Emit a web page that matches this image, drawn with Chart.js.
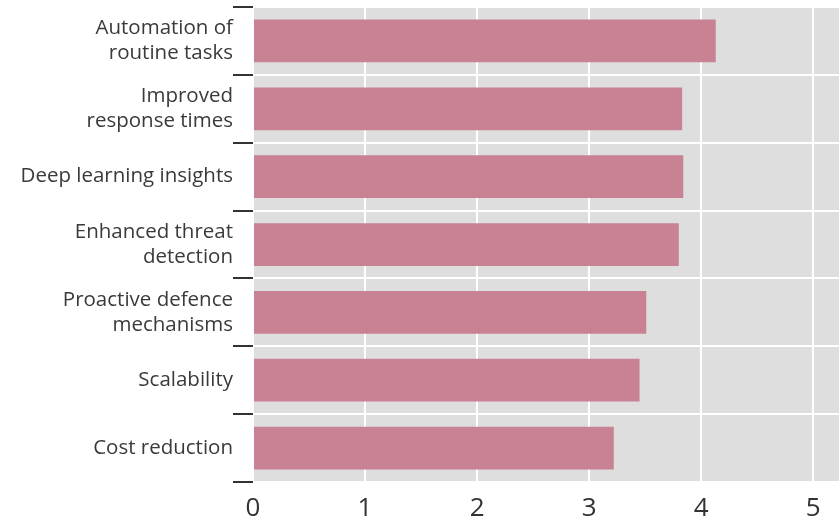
<!DOCTYPE html>
<html>
<head>
<meta charset="utf-8">
<script src="https://cdn.jsdelivr.net/npm/chart.js@4/dist/chart.umd.min.js"></script>
<style>
  html, body { margin: 0; padding: 0; background: #ffffff; }
  #wrap { width: 839px; height: 521px; position: relative; }
</style>
</head>
<body>
<div id="wrap"><canvas id="c"></canvas></div>
<script>
// Benefit categories (multi-line labels) and their average scores
const categories = [
  ["Automation of", "routine tasks"],
  ["Improved", "response times"],
  "Deep learning insights",
  ["Enhanced threat", "detection"],
  ["Proactive defence", "mechanisms"],
  "Scalability",
  "Cost reduction"
];
const scores = [4.13, 3.83, 3.84, 3.80, 3.51, 3.45, 3.22];
const xTicks = [0, 1, 2, 3, 4, 5];

// Grey panel behind the plotting area
const panelBackground = {
  id: 'panelBackground',
  beforeDraw(chart) {
    const { ctx, chartArea: a } = chart;
    ctx.save();
    ctx.fillStyle = '#dedede';
    ctx.fillRect(a.left, a.top, a.right - a.left, a.bottom - a.top);
    ctx.restore();
  }
};

new Chart(document.getElementById('c'), {
  type: 'bar',
  data: {
    labels: categories,
    datasets: [{
      data: scores,
      backgroundColor: '#c88294',
      borderWidth: 0,
      barPercentage: 0.63,
      categoryPercentage: 1.0
    }]
  },
  options: {
    indexAxis: 'y',
    responsive: true,
    maintainAspectRatio: false,
    animation: false,
    layout: { padding: { top: 7, right: 0, bottom: 0, left: 0 } },
    plugins: {
      legend: { display: false },
      tooltip: { enabled: false },
      title: { display: false }
    },
    scales: {
      x: {
        type: 'linear',
        min: 0,
        max: 5.23,
        afterBuildTicks(scale) {
          scale.ticks = xTicks.map(v => ({ value: v }));
        },
        afterFit(scale) { scale.height = 39; },
        border: { display: false },
        grid: {
          color: '#ffffff',
          lineWidth: 2,
          drawTicks: false
        },
        ticks: {
          padding: 11,
          color: '#333333',
          font: { family: 'Open Sans', size: 26 }
        }
      },
      y: {
        afterFit(scale) {
          scale.width = 253;
          scale.paddingTop = 0;
          scale.paddingBottom = 0;
        },
        border: { display: false },
        grid: {
          offset: true,
          color: '#ffffff',
          lineWidth: 2,
          drawTicks: true,
          tickLength: 20,
          tickColor: '#333333',
          tickWidth: 2
        },
        ticks: {
          padding: 0,
          color: '#3a3a3a',
          font: { family: 'Open Sans', size: 20.5, lineHeight: 1.22 }
        }
      }
    }
  },
  plugins: [panelBackground]
});
</script>
</body>
</html>
